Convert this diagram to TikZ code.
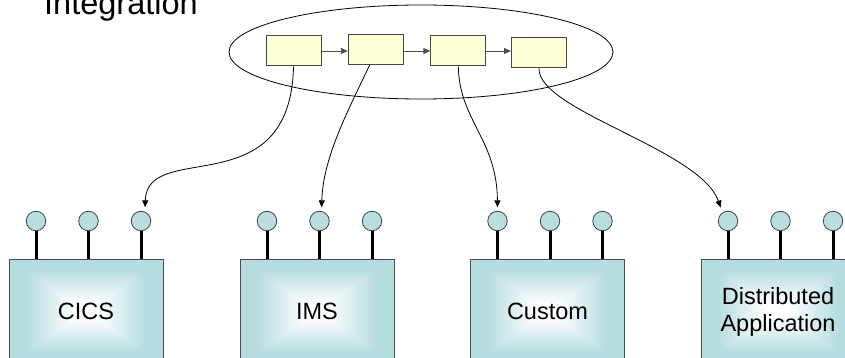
\documentclass[tikz,border=0pt]{standalone}
\usepackage{fontspec}
\setmainfont{Liberation Sans}
\usetikzlibrary{shapes.geometric,arrows.meta,calc}
\definecolor{boxcyan}{HTML}{B5DCDF}
\definecolor{ballcyan}{HTML}{B8DEE0}
\definecolor{stepyellow}{HTML}{FFFFD5}
\tikzset{
  smallbox/.style={draw=black!72, line width=1pt, fill=stepyellow, minimum width=55pt, minimum height=30pt, inner sep=0pt},
  flowarrow/.style={draw=black!70, line width=0.9pt, -{Triangle[length=7pt,width=6pt]}},
  conn/.style={draw=black, line width=0.8pt, -{Triangle[length=7pt,width=6pt]}, shorten >=3.5pt},
  ball/.style={circle, draw=black!75, line width=0.8pt, fill=ballcyan, minimum size=19.5pt, inner sep=0pt},
  stick/.style={line width=3pt, draw=black},
  appbox/.style={draw=black!70, line width=0.8pt, minimum width=154pt, minimum height=105pt, inner sep=0pt,
    align=center, font=\fontsize{23.5}{27}\selectfont,
    path picture={
      \foreach \i in {0,...,40}{
        \pgfmathsetmacro{\s}{1-\i/40}
        \pgfmathsetmacro{\p}{min(100,max(0,(\s-0.15)*100/0.65))}
        \fill[boxcyan!\p!white]
          ($(path picture bounding box.center)!\s!(path picture bounding box.south west)$)
          rectangle
          ($(path picture bounding box.center)!\s!(path picture bounding box.north east)$);
      }
    }},
}
\begin{document}
\begin{tikzpicture}[x=1pt,y=-1pt]
\path[use as bounding box] (0,0) rectangle (845,358);
\clip (0,0) rectangle (845,358);

\node[anchor=base west, inner sep=0pt, font=\fontsize{32.5}{38}\selectfont] (title) at (44,15) {Integration};

\node[draw=black, line width=0.8pt, ellipse, minimum width=384pt, minimum height=94pt, inner sep=0pt] (bus) at (421,52) {};

\node[smallbox] (b1) at (293.5,51) {};
\node[smallbox] (b2) at (375.8,49.3) {};
\node[smallbox] (b3) at (458.3,51) {};
\node[smallbox] (b4) at (539,53) {};

\draw[flowarrow] (b1.east) -- (b1.east -| b2.west);
\draw[flowarrow] (b3.west -| b2.east) -- (b3.west);
\draw[flowarrow] (b3.east) -- (b3.east -| b4.west);

\foreach \n/\x/\t in {1/86/CICS, 2/317/IMS, 3/547.5/Custom, 4/778/{Distributed\\Application}} {
  \node[appbox] (app\n) at (\x,311.5) {\t};
  \foreach \k/\dx in {1/-50,2/2.5,3/55} {
    \node[ball] (p\n\k) at ({\x+(\dx)},221) {};
    \draw[stick] (p\n\k.south) -- (p\n\k.south |- app\n.north);
  }
}

\draw[conn] (b1.south) .. controls +(-3,140) and +(2,-72) .. ([xshift=4pt]p13.north);
\draw[conn] ([xshift=-6pt]b2.south) .. controls +(-24.5,51) and +(1.5,-51.5) .. ([xshift=2pt]p22.north);
\draw[conn] (b3.south) .. controls +(1,54) and +(-0.5,-71.5) .. (p31.north);
\draw[conn] (b4.south) .. controls +(-1,42) and +(-22,-61.5) .. ([xshift=-6pt]p41.north);
\end{tikzpicture}
\end{document}
